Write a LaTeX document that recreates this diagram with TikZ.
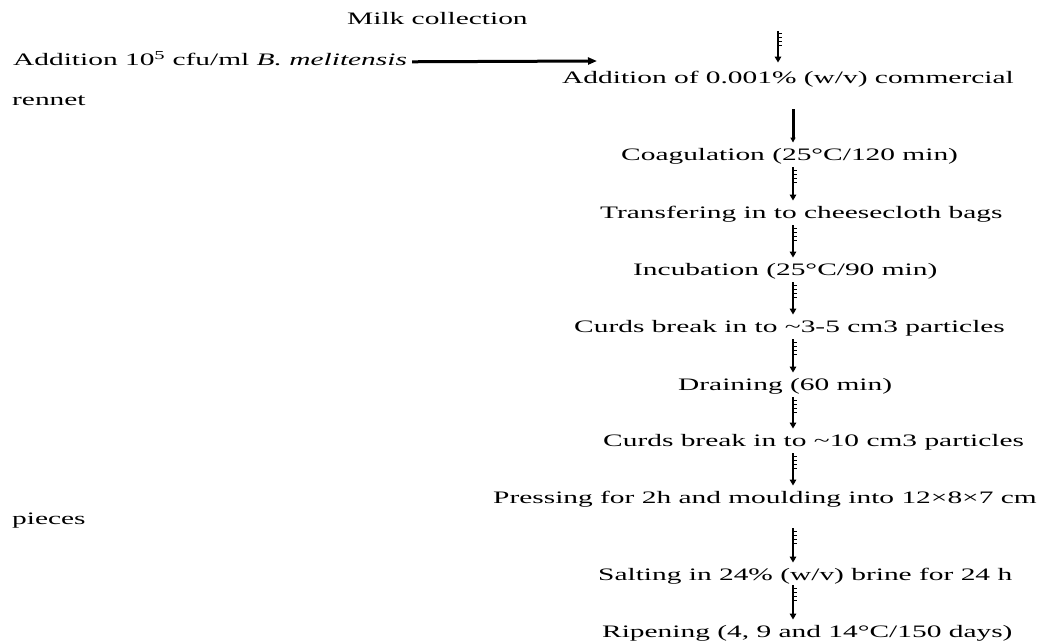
\documentclass[tikz,border=0pt]{standalone}
\usepackage{fontspec}
\setmainfont{Liberation Serif}[FakeStretch=1.68]
\usetikzlibrary{arrows.meta,decorations.markings,calc}
\begin{document}
\begin{tikzpicture}[x=1pt,y=-1pt,
  lbl/.style={anchor=base west, inner sep=0pt, text height=12.25pt, text depth=3.8pt,
    font=\fontsize{17.5}{20}\selectfont},
  flow/.style={line width=2.2pt, -{Triangle[length=6pt,width=6.5pt]},
    postaction={decorate},
    decoration={markings, mark=between positions 3pt and 15pt step 4pt with {\draw[line width=1pt,-] (0,0) -- (0,3.5pt);}}},
  thickarrow/.style={line width=3pt, -{Triangle[length=5pt,width=5pt]}},
  harrow/.style={line width=3pt, -{Triangle[length=9pt,width=7pt]}}
]
\fill[white] (0,0) rectangle (1044,642);
\useasboundingbox (0,0) rectangle (1044,642);

\node[lbl] (milk) at (347,25) {Milk collection};
\node[lbl] (addb) at (13,66) {Addition 10\textsuperscript{5} cfu/ml \textit{B. melitensis}};
\node[lbl] (addr) at (562,84) {Addition of 0.001\% (w/v) commercial};
\node[lbl] (rennet) at (12,105) {rennet};
\node[lbl] (coag) at (621,160) {Coagulation (25°C/120 min)};
\node[lbl] (trans) at (600,218) {Transfering in to cheesecloth bags};
\node[lbl] (incub) at (633,275) {Incubation (25°C/90 min)};
\node[lbl] (curdsa) at (574,332) {Curds break in to \textasciitilde3-5 cm3 particles};
\node[lbl] (drain) at (678,390) {Draining (60 min)};
\node[lbl] (curdsb) at (603,446) {Curds break in to \textasciitilde10 cm3 particles};
\node[lbl] (press) at (493,503) {Pressing for 2h and moulding into 12×8×7 cm};
\node[lbl] (pieces) at (12,524) {pieces};
\node[lbl] (salt) at (598,580) {Salting in 24\% (w/v) brine for 24 h};
\node[lbl] (ripen) at (602,637) {Ripening (4, 9 and 14°C/150 days)};

\coordinate (ax) at (793,0);
\coordinate (axa) at (778,0);
\coordinate (hend) at (597,61);

\draw[harrow] ($(addb.east)+(5,0)$) -- (hend);
\draw[flow] ($(milk.south -| axa)+(0,2)$) -- ($(addr.north -| axa)+(0,-9)$);
\draw[thickarrow] ($(addr.south -| ax)+(0,21)$) -- ($(coag.north -| ax)+(0,-5)$);
\draw[flow] ($(coag.south -| ax)+(0,3)$) -- ($(trans.north -| ax)+(0,-5)$);
\draw[flow] ($(trans.south -| ax)+(0,3)$) -- ($(incub.north -| ax)+(0,-5)$);
\draw[flow] ($(incub.south -| ax)+(0,3)$) -- ($(curdsa.north -| ax)+(0,-5)$);
\draw[flow] ($(curdsa.south -| ax)+(0,3)$) -- ($(drain.north -| ax)+(0,-5)$);
\draw[flow] ($(drain.south -| ax)+(0,3)$) -- ($(curdsb.north -| ax)+(0,-5)$);
\draw[flow] ($(curdsb.south -| ax)+(0,3)$) -- ($(press.north -| ax)+(0,-5)$);
\draw[flow] ($(press.south -| ax)+(0,21)$) -- ($(salt.north -| ax)+(0,-5)$);
\draw[flow] ($(salt.south -| ax)+(0,1)$) -- ($(ripen.north -| ax)+(0,-5)$);
\end{tikzpicture}
\end{document}
